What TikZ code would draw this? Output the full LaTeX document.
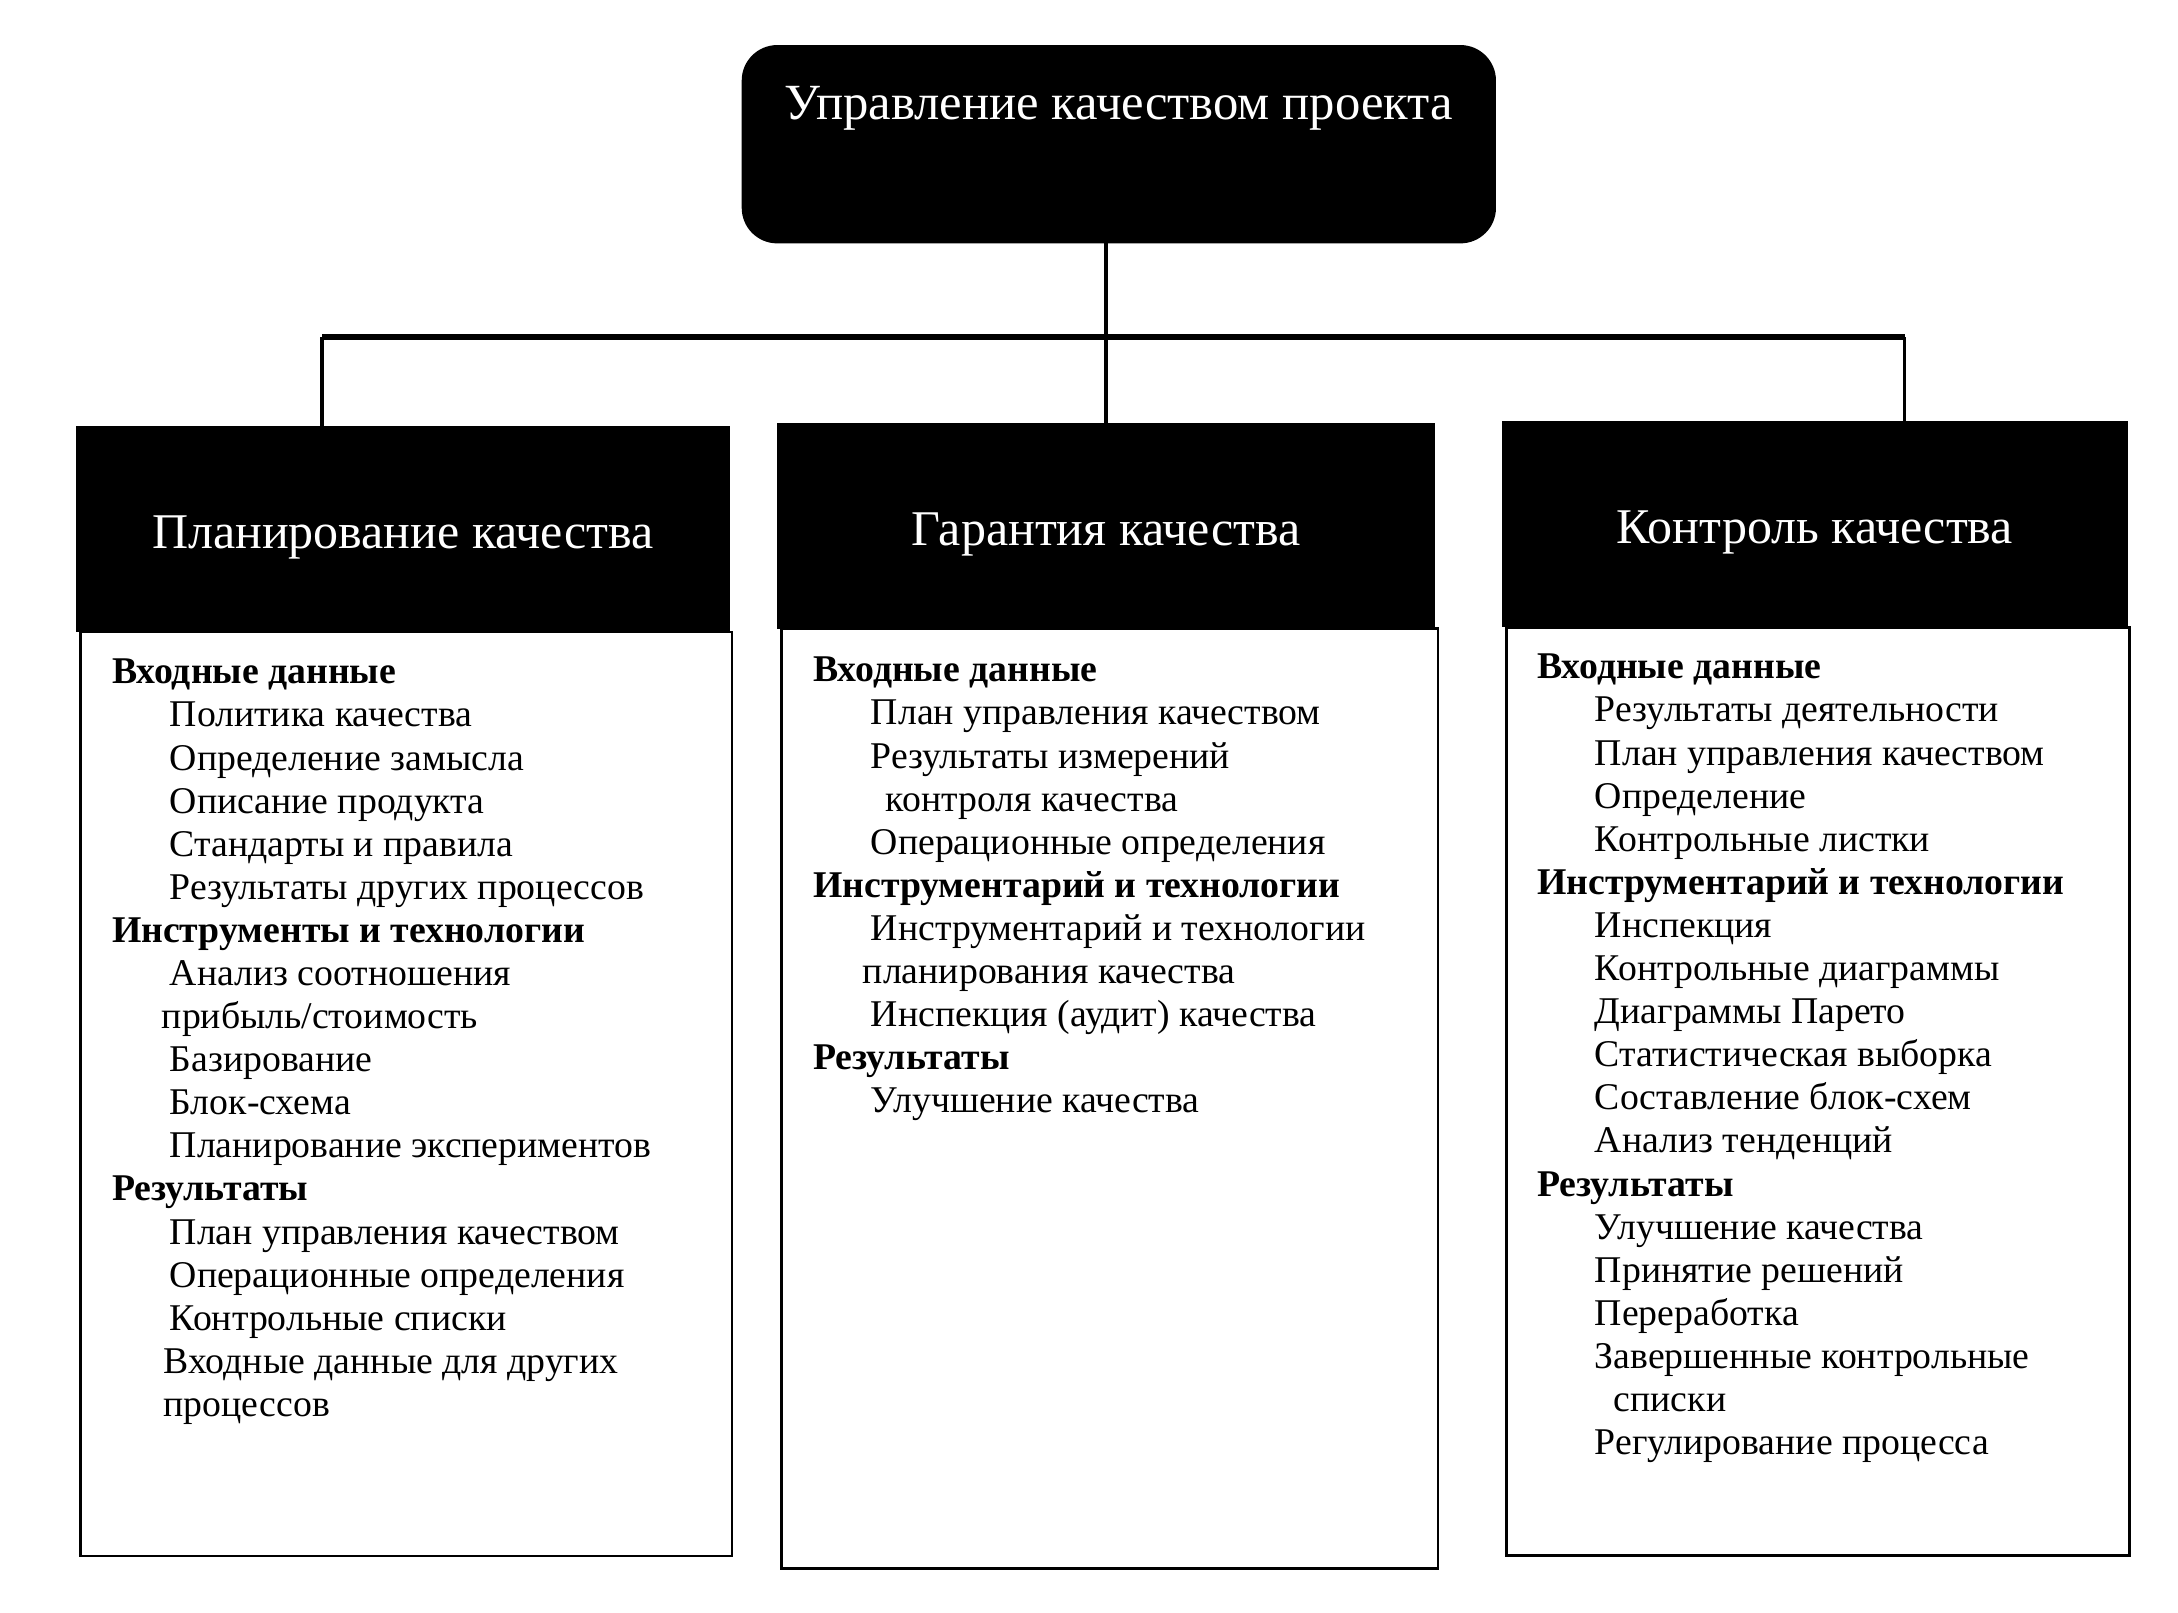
\documentclass[tikz,border=0pt]{standalone}
\usepackage{fontspec}
\setmainfont{Liberation Serif}
\usetikzlibrary{positioning}

\newcommand{\ind}{\hspace*{5.8mm}}

\begin{document}
\begin{tikzpicture}
		\tikzstyle{top-box}=[fill=black,draw=black,rounded corners=0.35cm,minimum width=7.57cm,minimum height=1.98cm]
		\tikzstyle{top-text}=[text=white,font=\fontsize{14.5}{17}\selectfont]
		\tikzstyle{head}=[fill=black,draw=black,text=white,minimum height=2.06cm,inner sep=0,text height=14pt,text depth=3pt,font=\fontsize{14.3}{17}\selectfont]
		\tikzstyle{body}=[draw=black,thick,inner sep=0]
		\tikzstyle{list}=[anchor=north west,align=left,inner sep=0,font=\fontsize{10.8}{12.33}\selectfont]
		\tikzstyle{link}=[line width=1.1pt]
		\tikzstyle{bus}=[line width=1.8pt]
		\useasboundingbox (0,0) rectangle (21.9,-16.21);
		% top box
		\node [top-box] at (11.25,-1.45) (top) {};
		\node [top-text] at (11.25,-1.09) (toptext) {Управление качеством проекта};
		% headers
		\node [head,minimum width=6.56cm] at (4.05,-5.32) (plan) {Планирование качества};
		\node [head,minimum width=6.60cm] at (11.12,-5.29) (gar) {Гарантия качества};
		\node [head,minimum width=6.29cm] at (18.25,-5.27) (kontr) {Контроль качества};
		% bodies
		\node [body,minimum width=6.55cm,minimum height=9.29cm] at (4.085,-11.0) (planbox) {};
		\node [body,minimum width=6.60cm,minimum height=9.45cm] at (11.16,-11.045) (garbox) {};
		\node [body,minimum width=6.26cm,minimum height=9.33cm] at (18.28,-10.975) (kontrbox) {};
		% lists
		\node [list] at (1.12,-6.62) (planlist) {\textbf{Входные данные}\\
			\ind Политика качества\\
			\ind Определение замысла\\
			\ind Описание продукта\\
			\ind Стандарты и правила\\
			\ind Результаты других процессов\\
			\textbf{Инструменты и технологии}\\
			\ind Анализ соотношения\\
			\hspace*{5mm}прибыль/стоимость\\
			\ind Базирование\\
			\ind Блок-схема\\
			\ind Планирование экспериментов\\
			\textbf{Результаты}\\
			\ind План управления качеством\\
			\ind Операционные определения\\
			\ind Контрольные списки\\
			\hspace*{5.2mm}Входные данные для других\\
			\hspace*{5.2mm}процессов};
		\node [list] at (8.17,-6.60) (garlist) {\textbf{Входные данные}\\
			\ind План управления качеством\\
			\ind Результаты измерений\\
			\hspace*{7.3mm}контроля качества\\
			\ind Операционные определения\\
			\textbf{Инструментарий и технологии}\\
			\ind Инструментарий и технологии\\
			\hspace*{5mm}планирования качества\\
			\ind Инспекция (аудит) качества\\
			\textbf{Результаты}\\
			\ind Улучшение качества};
		\node [list] at (15.45,-6.57) (kontrlist) {\textbf{Входные данные}\\
			\ind Результаты деятельности\\
			\ind План управления качеством\\
			\ind Определение\\
			\ind Контрольные листки\\
			\textbf{Инструментарий и технологии}\\
			\ind Инспекция\\
			\ind Контрольные диаграммы\\
			\ind Диаграммы Парето\\
			\ind Статистическая выборка\\
			\ind Составление блок-схем\\
			\ind Анализ тенденций\\
			\textbf{Результаты}\\
			\ind Улучшение качества\\
			\ind Принятие решений\\
			\ind Переработка\\
			\ind Завершенные контрольные\\
			\hspace*{7.7mm}списки\\
			\ind Регулирование процесса};
		% links
		\coordinate (busL) at (3.24,-3.39);
		\coordinate (busR) at (19.15,-3.39);
		\draw [link] (gar.north |- top.south) -- (gar.north);
		\draw [link] (busL) -- (busL |- plan.north);
		\draw [link] (busR) -- (busR |- kontr.north);
		\draw [bus] (busL) -- (busR);
	\end{tikzpicture}
\end{document}
